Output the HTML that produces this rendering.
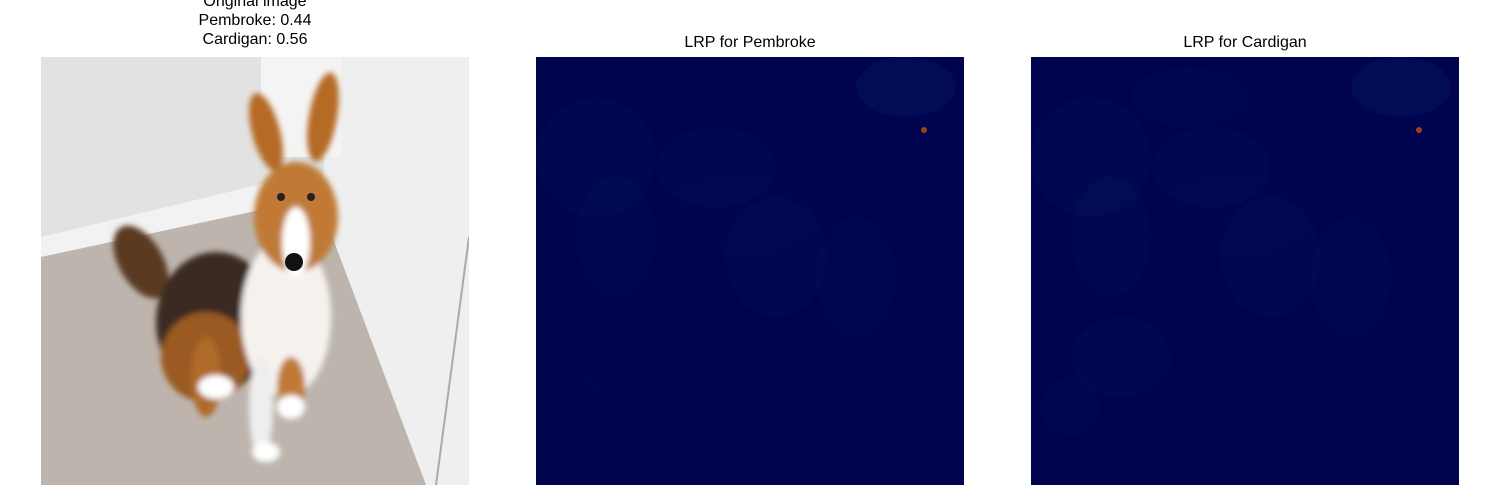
<!DOCTYPE html>
<html><head><meta charset="utf-8"><style>
body{margin:0;width:1500px;height:500px;background:#fff;overflow:hidden;font-family:"Liberation Sans","DejaVu Sans",sans-serif;position:relative}
.t{position:absolute;text-align:center;font-size:16px;color:#000;line-height:19px;width:430px}
.p{position:absolute;top:57px;width:428px;height:428px}
</style></head><body>
<div class="t" style="left:40px;top:-8px">Original image<br>Pembroke: 0.44<br>Cardigan: 0.56</div>
<div class="t" style="left:535px;top:33px">LRP for Pembroke</div>
<div class="t" style="left:1030px;top:33px">LRP for Cardigan</div>

<svg class="p" style="left:41px" viewBox="0 0 428 428">
<defs><filter id="bl"><feGaussianBlur stdDeviation="3"/></filter></defs>
<rect width="428" height="428" fill="#dcdcdc"/>
<polygon points="0,0 250,0 250,120 0,180" fill="#e2e2e2"/>
<polygon points="0,180 250,120 280,140 0,200" fill="#f2f2f2"/>
<polygon points="0,200 280,140 400,428 0,428" fill="#bdb5ad"/>
<polygon points="290,0 428,0 428,428 385,428 280,150" fill="#efefef"/>
<polygon points="220,0 300,0 300,100 220,100" fill="#f4f4f4"/>
<g filter="url(#bl)">
<ellipse cx="100" cy="205" rx="22" ry="40" fill="#5a3a22" transform="rotate(-30 100 205)"/>
<ellipse cx="175" cy="265" rx="60" ry="70" fill="#3a2a20"/>
<ellipse cx="165" cy="300" rx="45" ry="45" fill="#9a5a20"/>
<ellipse cx="245" cy="260" rx="45" ry="80" fill="#f5f2ee"/>
<ellipse cx="220" cy="350" rx="12" ry="50" fill="#eee"/>
<ellipse cx="250" cy="330" rx="14" ry="30" fill="#c07a35"/>
<ellipse cx="165" cy="320" rx="15" ry="40" fill="#b06a2a"/>
<ellipse cx="175" cy="330" rx="18" ry="12" fill="#fff"/>
<ellipse cx="225" cy="395" rx="14" ry="10" fill="#fff"/>
<ellipse cx="250" cy="350" rx="14" ry="12" fill="#fff"/>
<ellipse cx="255" cy="160" rx="42" ry="55" fill="#c07a35"/>
<ellipse cx="255" cy="185" rx="14" ry="35" fill="#fff"/>
<ellipse cx="225" cy="75" rx="14" ry="40" fill="#b56a25" transform="rotate(-15 225 75)"/>
<ellipse cx="282" cy="60" rx="14" ry="45" fill="#b56a25" transform="rotate(10 282 60)"/>
</g>
<circle cx="253" cy="205" r="9" fill="#111"/>
<circle cx="240" cy="140" r="4" fill="#222"/>
<circle cx="270" cy="140" r="4" fill="#222"/>
<line x1="395" y1="428" x2="428" y2="180" stroke="#aaa" stroke-width="2"/>
</svg>

<svg class="p" id="h1" style="left:536px" viewBox="0 0 428 428"></svg>
<svg class="p" id="h2" style="left:1031px" viewBox="0 0 428 428"></svg>

<script>
// hotspot regions: [x, y, rx, ry, intensity]
const regionsX = [370, 60, 180, 240, 320, 90, 40, 200, 160, 80];
const regionsY = [30, 100, 110, 200, 220, 300, 350, 160, 40, 180];
const regionsRX = [50, 60, 60, 50, 40, 50, 30, 80, 60, 40];
const regionsRY = [30, 60, 40, 60, 60, 40, 30, 40, 30, 60];
const pembrokeI = [0.9, 0.5, 0.5, 0.5, 0.4, 0.3, 0.3, 0.3, 0.3, 0.4];
const cardiganI = [1.0, 0.6, 0.5, 0.5, 0.4, 0.5, 0.4, 0.3, 0.4, 0.5];
function draw(id, vals){
  const s=document.getElementById(id), ns='http://www.w3.org/2000/svg';
  const bg=document.createElementNS(ns,'rect');
  bg.setAttribute('width',428);bg.setAttribute('height',428);bg.setAttribute('fill','#00034d');
  
  
  s.appendChild(bg);
  for(let i=0;i<regionsX.length;i++){
    const e=document.createElementNS(ns,'ellipse');
    e.setAttribute('cx',regionsX[i]);e.setAttribute('cy',regionsY[i]);
    e.setAttribute('rx',regionsRX[i]);e.setAttribute('ry',regionsRY[i]);
    e.setAttribute('fill','#06206e');e.setAttribute('opacity',vals[i]*0.3);
    
    
    s.appendChild(e);
  }
  const hot=document.createElementNS(ns,'circle');
  hot.setAttribute('cx',388);hot.setAttribute('cy',73);hot.setAttribute('r',3);hot.setAttribute('fill','#a04010');
  
  
  s.appendChild(hot);
}
draw('h1',pembrokeI);draw('h2',cardiganI);
</script>
</body></html>
